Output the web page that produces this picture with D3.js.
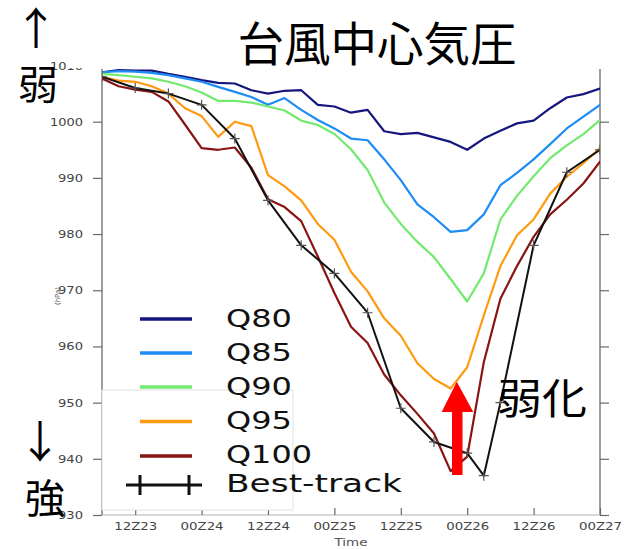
<!DOCTYPE html>
<html><head><meta charset="utf-8">
<script src="https://cdn.jsdelivr.net/npm/d3@7"></script>
<style>
html,body{margin:0;padding:0;background:#fff;}
svg{display:block;}
</style></head><body>
<svg id="chart" width="628" height="549"></svg>
<script>
// Quantile runs: hours after 06Z23, central pressure (hPa)
const qHours = [0,3,6,9,12,15,18,21,24,27,30,33,36,39,42,45,48,51,54,57,60,63,66,69,72,75,78,81,84,87,90];
const q80  = [1008.8,1009.2,1009.1,1009.1,1008.5,1008.0,1007.4,1006.9,1006.8,1005.6,1005.0,1005.5,1005.6,1003.0,1002.7,1001.6,1002.1,998.3,997.8,998.0,997.2,996.4,995.0,997.0,998.4,999.7,1000.2,1002.4,1004.3,1004.9,1005.9];
const q85  = [1008.8,1009.0,1008.9,1008.7,1008.3,1007.7,1007.1,1006.2,1005.3,1004.4,1003.0,1004.2,1002.1,1000.3,998.8,997.0,996.7,993.3,989.6,985.3,983.0,980.4,980.7,983.5,988.7,990.9,993.3,996.0,998.8,1000.9,1003.0];
const q90  = [1008.5,1008.3,1008.0,1007.7,1007.1,1006.3,1005.2,1003.7,1003.7,1003.4,1002.7,1002.0,1000.2,999.4,997.8,995.1,991.4,985.6,981.8,978.6,975.9,972.0,968.0,973.0,982.6,986.8,990.3,993.5,995.8,997.8,1000.3];
const q95  = [1008.0,1007.3,1007.1,1006.3,1005.0,1002.4,1001.0,997.3,1000.0,999.2,990.5,988.5,986.0,981.8,979.0,973.3,969.8,965.0,961.9,957.0,954.2,952.5,956.3,965.5,974.3,979.8,982.6,987.2,990.2,992.6,995.3];
const q100 = [1007.7,1006.3,1005.7,1005.3,1003.6,999.5,995.3,995.0,995.4,991.8,986.2,984.8,982.3,976.0,969.5,963.5,960.6,955.0,951.3,948.0,944.5,937.8,940.4,957.2,968.5,974.3,979.5,983.5,986.1,989.0,992.9];

// Best track (JMA style time stamps)
const bestTimes  = ["06Z23","12Z23","18Z23","00Z24","06Z24","12Z24","18Z24","00Z25","06Z25","12Z25","18Z25","00Z26","03Z26","06Z26","12Z26","18Z26","00Z27"];
const bestValues = [1008,1006,1005,1003,997,986,978,973,966,949,943,941,937,950,978,991,995];

const seriesNames = ["Q80","Q85","Q90","Q95","Q100"];
const seriesData  = [q80,q85,q90,q95,q100];
const seriesColors = ["#16167f","#1e8cf5","#72ea6e","#ff9a10","#8a1414"];

const xTickLabels = ["12Z23","00Z24","12Z24","00Z25","12Z25","00Z26","12Z26","00Z27"];
const yTickValues = [930,940,950,960,970,980,990,1000,1010];

const parseStamp = s => new Date(Date.UTC(2000, 0, +s.slice(3), +s.slice(0, 2)));
const startTime = parseStamp("06Z23");
const hourToDate = h => new Date(startTime.getTime() + h * 3600e3);

const svg = d3.select("#chart");
const cjk = "'Noto Sans CJK JP', 'Noto Sans CJK SC', sans-serif";
const latin = "'DejaVu Sans', sans-serif";

const x = d3.scaleUtc().domain([startTime, parseStamp("00Z27")]).range([102, 600]);
const y = d3.scaleLinear().domain([930, 1010]).range([515, 65.5]);

// clip for the data area
svg.append("defs").append("clipPath").attr("id", "plotClip")
  .append("rect").attr("x", 102).attr("y", 68).attr("width", 498).attr("height", 447);

// spines
const axisColor = "#6a6a6a";
svg.append("line").attr("x1", 102).attr("x2", 102).attr("y1", 69).attr("y2", 515).attr("stroke", axisColor).attr("stroke-width", 1.3);
svg.append("line").attr("x1", 600).attr("x2", 600).attr("y1", 69).attr("y2", 515).attr("stroke", axisColor).attr("stroke-width", 1.3);
svg.append("line").attr("x1", 102).attr("x2", 600).attr("y1", 515).attr("y2", 515).attr("stroke", "#b0b0b0").attr("stroke-width", 1);

// left axis
const yAxis = svg.append("g").attr("transform", "translate(102,0)")
  .call(d3.axisLeft(y).tickValues(yTickValues).tickSize(9).tickPadding(10).tickFormat(d3.format("d")));
yAxis.select(".domain").remove();
yAxis.selectAll(".tick line").attr("stroke", axisColor).attr("stroke-width", 1.2);
yAxis.selectAll(".tick text")
  .attr("font-family", latin).attr("font-size", 11).attr("fill", "#444")
  .attr("textLength", d => d >= 1000 ? 33 : 25).attr("lengthAdjust", "spacingAndGlyphs");

// right axis (ticks only)
const yAxisR = svg.append("g").attr("transform", "translate(600,0)")
  .call(d3.axisRight(y).tickValues(yTickValues.filter(v => v < 1010)).tickSize(9).tickFormat(""));
yAxisR.select(".domain").remove();
yAxisR.selectAll(".tick line").attr("stroke", axisColor).attr("stroke-width", 1.2);

// bottom axis, ticks pointing inward
const xAxis = svg.append("g").attr("transform", "translate(0,515)")
  .call(d3.axisBottom(x).tickValues(xTickLabels.map(parseStamp)).tickSize(-7).tickPadding(8)
    .tickFormat((d, i) => xTickLabels[i]));
xAxis.select(".domain").remove();
xAxis.selectAll(".tick line").attr("stroke", axisColor).attr("stroke-width", 1.2);
xAxis.selectAll(".tick text")
  .attr("font-family", latin).attr("font-size", 10.5).attr("fill", "#444")
  .attr("textLength", 43).attr("lengthAdjust", "spacingAndGlyphs");

svg.append("text").attr("x", 351).attr("y", 546).attr("text-anchor", "middle")
  .attr("font-family", latin).attr("font-size", 10.5).attr("fill", "#555")
  .attr("textLength", 33).attr("lengthAdjust", "spacingAndGlyphs").text("Time");
svg.append("text").attr("transform", "translate(60,296) rotate(-90)").attr("text-anchor", "middle")
  .attr("font-family", latin).attr("font-size", 7).attr("fill", "#555").text("(hPa)");

// quantile curves
const line = d3.line().x(d => x(d[0])).y(d => y(d[1]));
const plot = svg.append("g").attr("clip-path", "url(#plotClip)");
seriesData.forEach((vals, i) => {
  plot.append("path")
    .datum(qHours.map((h, k) => [hourToDate(h), vals[k]]))
    .attr("d", line).attr("fill", "none")
    .attr("stroke", seriesColors[i]).attr("stroke-width", 2.2)
    .attr("stroke-linejoin", "round").attr("stroke-linecap", "round");
});

// best track with + markers
const bestPts = bestTimes.map((t, k) => [parseStamp(t), bestValues[k]]);
plot.append("path").datum(bestPts).attr("d", line).attr("fill", "none")
  .attr("stroke", "#111").attr("stroke-width", 2).attr("stroke-linejoin", "round");
const plusSize = 5;
plot.selectAll("path.bt").data(bestPts).join("path").attr("class", "bt")
  .attr("d", d => {
    const px = x(d[0]), py = y(d[1]);
    return `M${px - plusSize},${py}H${px + plusSize}M${px},${py - plusSize}V${py + plusSize}`;
  })
  .attr("stroke", "#555").attr("stroke-width", 1.2).attr("fill", "none");

// title panel sits over the top edge of the figure
svg.append("rect").attr("x", 66).attr("y", 0).attr("width", 562).attr("height", 68).attr("fill", "#fff");

// legend frame
svg.append("rect").attr("x", 102).attr("y", 390).attr("width", 191).attr("height", 120)
  .attr("fill", "#fff").attr("stroke", "#e2e2e2").attr("stroke-width", 1);

// legend entries
const legRowY = [319, 353, 387, 421.5, 456];
const legTextY = [327, 361, 395, 429, 463];
const legTextW = [66, 66, 66, 66, 86];
seriesNames.forEach((name, i) => {
  svg.append("line").attr("x1", 140).attr("x2", 192).attr("y1", legRowY[i]).attr("y2", legRowY[i])
    .attr("stroke", seriesColors[i]).attr("stroke-width", 3.5);
  svg.append("text").attr("x", 226).attr("y", legTextY[i])
    .attr("font-family", latin).attr("font-size", 24).attr("fill", "#111")
    .attr("textLength", legTextW[i]).attr("lengthAdjust", "spacingAndGlyphs").text(name);
});
svg.append("path").attr("d", "M126,485H202M140,475V495M189,475V495")
  .attr("stroke", "#111").attr("stroke-width", 3).attr("fill", "none");
svg.append("text").attr("x", 226).attr("y", 492)
  .attr("font-family", latin).attr("font-size", 24).attr("fill", "#111")
  .attr("textLength", 176).attr("lengthAdjust", "spacingAndGlyphs").text("Best-track");

// weakening arrow
svg.append("path")
  .attr("d", "M452,475V412H441.7L456.8,381.7L473.3,412H462.5V475Z")
  .attr("fill", "#ff0000");
svg.append("text").attr("x", 497).attr("y", 414)
  .attr("font-family", cjk).attr("font-size", 42).attr("fill", "#000")
  .attr("textLength", 90).attr("lengthAdjust", "spacingAndGlyphs").text("弱化");

// title
svg.append("text").attr("x", 377).attr("y", 61).attr("text-anchor", "middle")
  .attr("font-family", cjk).attr("font-size", 47).attr("fill", "#000")
  .attr("textLength", 279).attr("lengthAdjust", "spacingAndGlyphs").text("台風中心気圧");

// strength side labels
svg.append("text").attr("x", 36).attr("y", 45).attr("text-anchor", "middle")
  .attr("font-family", cjk).attr("font-size", 44).attr("fill", "#000").text("↑");
svg.append("text").attr("x", 38).attr("y", 99).attr("text-anchor", "middle")
  .attr("font-family", cjk).attr("font-size", 40).attr("fill", "#000").text("弱");
svg.append("text").attr("x", 40).attr("y", 458).attr("text-anchor", "middle")
  .attr("font-family", cjk).attr("font-size", 44).attr("fill", "#000").text("↓");
svg.append("text").attr("x", 45).attr("y", 513).attr("text-anchor", "middle")
  .attr("font-family", cjk).attr("font-size", 40).attr("fill", "#000").text("強");
</script>
</body></html>
